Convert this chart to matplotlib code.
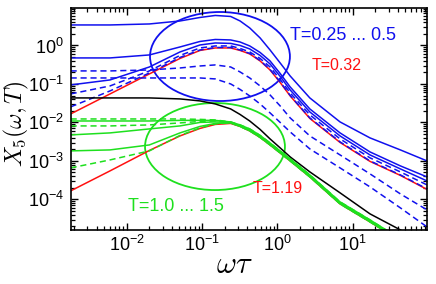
import matplotlib
matplotlib.use('Agg')
import matplotlib.pyplot as plt
from matplotlib.patches import Ellipse
from matplotlib.ticker import FuncFormatter, LogLocator
import numpy as np

plt.rcParams['font.family'] = ['Liberation Sans', 'DejaVu Sans']
plt.rcParams['mathtext.fontset'] = 'cm'

# omega*tau grid shared by all curves
omega = [0.0018, 0.006, 0.02, 0.051, 0.094, 0.15, 0.24, 0.32, 0.43, 0.59, 0.80, 1.09, 1.48, 2.7, 6.8, 17, 43, 97]

# low temperature family, T = 0.25 ... 0.5 (blue)
blue_solid = [
    [3.41, 3.41, 3.62, 4.33, 5.34, 6.02, 5.67, 4.33, 2.85, 1.57, 0.764, 0.351, 0.161, 0.0433, 0.0103, 0.00396, 0.00193, 0.00100],
    [0.474, 0.474, 0.567, 0.914, 1.27, 1.43, 1.39, 1.23, 0.971, 0.658, 0.396, 0.187, 0.0836, 0.0224, 0.00534, 0.00171, 0.000742, 0.000384],
    [0.0942, 0.127, 0.276, 0.678, 1.03, 1.16, 1.13, 1.00, 0.811, 0.550, 0.331, 0.157, 0.0699, 0.0187, 0.00446, 0.00143, 0.000620, 0.000302],
]
blue_dashed = [
    [0.218, 0.218, 0.231, 0.260, 0.293, 0.312, 0.276, 0.205, 0.143, 0.0887, 0.0518, 0.0268, 0.0131, 0.00446, 0.00143, 0.000460, 0.000139, 0.0000534],
    [0.143, 0.143, 0.143, 0.143, 0.143, 0.135, 0.100, 0.0720, 0.0488, 0.0302, 0.0177, 0.0100, 0.00567, 0.00205, 0.000658, 0.000211, 0.0000602, 0.0000193],
    [0.0550, 0.0887, 0.218, 0.550, 0.861, 0.971, 0.971, 0.836, 0.678, 0.460, 0.276, 0.131, 0.0584, 0.0157, 0.00373, 0.00120, 0.000518, 0.000238],
    [0.0253, 0.0658, 0.193, 0.488, 0.764, 0.887, 0.887, 0.764, 0.620, 0.408, 0.238, 0.113, 0.0503, 0.0131, 0.00312, 0.00100, 0.000433, 0.000187],
]
red_032 = [0.0166, 0.0550, 0.182, 0.460, 0.742, 0.861, 0.861, 0.742, 0.602, 0.396, 0.231, 0.109, 0.0488, 0.0127, 0.00302, 0.000971, 0.000420, 0.000182]

black = [0.0433, 0.0433, 0.0433, 0.0408, 0.0362, 0.0302, 0.0224, 0.0161, 0.0109, 0.00658, 0.00373, 0.00218, 0.00127, 0.000518, 0.000148, 0.0000420, 0.0000161, 0.0000066]

# high temperature family, T = 1.0 ... 1.5 (green)
green_solid = [
    [0.0109, 0.0109, 0.0109, 0.0113, 0.0113, 0.0113, 0.0103, 0.00861, 0.00678, 0.00460, 0.00293, 0.00182, 0.00113, 0.000433, 0.0000861, 0.0000293, 0.0000094, 0.0000036],
    [0.00474, 0.00534, 0.00678, 0.00811, 0.0100, 0.0103, 0.0100, 0.00811, 0.00639, 0.00433, 0.00276, 0.00171, 0.00106, 0.000408, 0.0000811, 0.0000276, 0.0000089, 0.0000034],
    [0.00182, 0.00193, 0.00260, 0.00534, 0.00787, 0.00942, 0.00971, 0.00787, 0.00602, 0.00408, 0.00260, 0.00161, 0.00100, 0.000384, 0.0000764, 0.0000260, 0.0000084, 0.0000032],
]
green_dashed = [
    [0.0123, 0.0123, 0.0123, 0.0123, 0.0120, 0.0116, 0.0103, 0.00861, 0.00678, 0.00460, 0.00293, 0.00182, 0.00113, 0.000433, 0.0000861, 0.0000293, 0.0000094, 0.0000036],
    [0.00811, 0.00811, 0.00861, 0.00971, 0.0106, 0.0109, 0.0100, 0.00811, 0.00639, 0.00433, 0.00276, 0.00171, 0.00106, 0.000408, 0.0000811, 0.0000276, 0.0000089, 0.0000034],
    [0.000658, 0.00106, 0.00182, 0.00460, 0.00720, 0.00914, 0.00971, 0.00787, 0.00602, 0.00408, 0.00260, 0.00161, 0.00100, 0.000384, 0.0000764, 0.0000260, 0.0000084, 0.0000032],
]
red_119 = [0.000166, 0.000550, 0.00187, 0.00446, 0.00699, 0.00887, 0.00942, 0.00787, 0.00602, 0.00408, 0.00260, 0.00161, 0.00100, 0.000384, 0.0000764, 0.0000260, 0.0000084, 0.0000032]

blue = '#1010ee'
green = '#1ee01e'
red = '#ff1010'

fig = plt.figure(figsize=(4.36, 2.84), dpi=100)
ax = fig.add_axes([0.1628, 0.1901, 0.8165, 0.7817])

lw = 1.1
for y in blue_solid:
    ax.plot(omega, y, color=blue, lw=lw)
ax.plot(omega, red_032, color=red, lw=lw)
for y in blue_dashed:
    ax.plot(omega, y, color=blue, lw=lw, ls=(0, (4, 2.5)))
ax.plot(omega, black, color='black', lw=lw)
ax.plot(omega, red_119, color=red, lw=lw)
for y in green_solid:
    ax.plot(omega, y, color=green, lw=lw)
for y in green_dashed:
    ax.plot(omega, y, color=green, lw=lw, ls=(0, (4, 2.5)))

ax.add_patch(Ellipse((0.4185, 0.7815), 0.393, 0.401, transform=ax.transAxes,
                     fill=False, ec=blue, lw=1.3))
ax.add_patch(Ellipse((0.4045, 0.376), 0.393, 0.392, transform=ax.transAxes,
                     fill=False, ec=green, lw=1.3))

ax.text(0.615, 0.878, 'T=0.25 ... 0.5', color=blue, fontsize=13,
        transform=ax.transAxes, va='center')
ax.text(0.677, 0.739, 'T=0.32', color=red, fontsize=11.5,
        transform=ax.transAxes, va='center')
ax.text(0.511, 0.185, 'T=1.19', color=red, fontsize=11.5,
        transform=ax.transAxes, va='center')
ax.text(0.160, 0.104, 'T=1.0 ... 1.5', color=green, fontsize=13,
        transform=ax.transAxes, va='center')

ax.set_xscale('log')
ax.set_yscale('log')
ax.set_xlim(0.00182, 97)
ax.set_ylim(1.6e-5, 9.4)

fmt = FuncFormatter(lambda v, p: r'$\mathregular{10^{%d}}$' % round(np.log10(v)))
ax.xaxis.set_major_locator(LogLocator(base=10, numticks=12))
ax.yaxis.set_major_locator(LogLocator(base=10, numticks=12))
ax.xaxis.set_minor_locator(LogLocator(base=10, subs=np.arange(2, 10), numticks=12))
ax.yaxis.set_minor_locator(LogLocator(base=10, subs=np.arange(2, 10), numticks=12))
ax.xaxis.set_major_formatter(fmt)
ax.yaxis.set_major_formatter(fmt)

ax.tick_params(which='both', direction='in', top=True, right=True, labelsize=13)
ax.tick_params(which='major', length=5, width=1.0)
ax.tick_params(which='minor', length=2.8, width=0.9)
ax.tick_params(axis='x', pad=3.5)
ax.tick_params(axis='y', pad=5)
for s in ax.spines.values():
    s.set_linewidth(1.2)

ax.set_xlabel(r'$\omega\tau$', fontsize=22)
ax.set_ylabel(r'$X_5(\omega,T)$', fontsize=17)
ax.xaxis.set_label_coords(0.46, -0.09)
ax.yaxis.set_label_coords(-0.112, 0.48)

fig.savefig('out.png', dpi=100)
